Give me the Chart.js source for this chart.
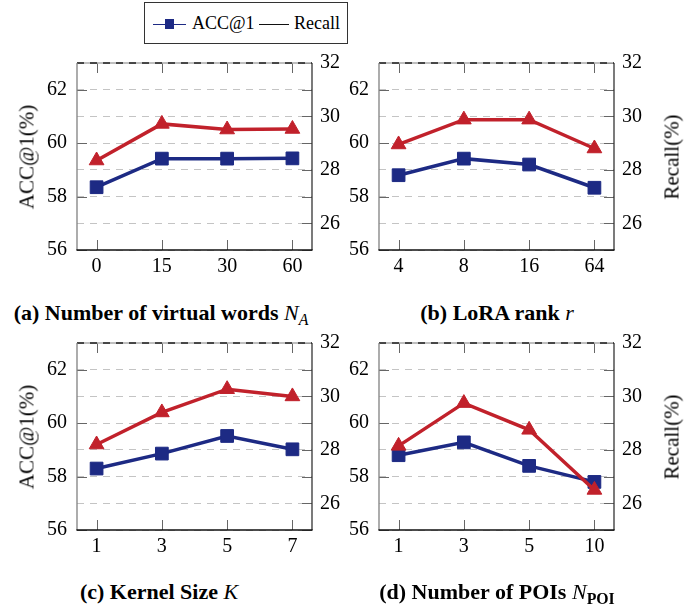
<!DOCTYPE html>
<html>
<head>
<meta charset="utf-8">
<script src="https://cdn.jsdelivr.net/npm/chart.js@4/dist/chart.umd.min.js"></script>
<style>
html,body{margin:0;padding:0;background:#fff;}
body{width:697px;height:607px;position:relative;overflow:hidden;font-family:'Liberation Serif','Times New Roman',serif;color:#000;}
canvas{position:absolute;}
.t{position:absolute;white-space:nowrap;line-height:1;}
.rot{transform:translate(-50%,-50%) rotate(-90deg);font-size:21px;}
.cap{transform:translate(-50%,-50%);font-size:22px;font-weight:bold;}
.cap i{font-weight:normal;}
.cap sub{font-size:0.72em;vertical-align:-0.3em;line-height:0;}
#legend{position:absolute;left:144px;top:2px;width:204px;height:42px;border:1px solid #333;box-sizing:border-box;}
#legend .ln{position:absolute;height:1.3px;}
#legend .sq{position:absolute;width:9px;height:10px;}
#legend .lt{position:absolute;font-size:18px;line-height:1;top:11px;}
#fontwarm{position:absolute;left:-999px;top:0;font-family:'Liberation Serif';font-size:20px;}
</style>
</head>
<body>
<div id="fontwarm">0123456789</div>
<div id="legend">
  <div class="ln" style="left:8px;top:20.5px;width:33px;background:#1d2a84"></div>
  <div class="sq" style="left:20px;top:16px;background:#1d2a84"></div>
  <div class="lt" style="left:47px">ACC@1</div>
  <div class="ln" style="left:114px;top:20.5px;width:30px;background:#111"></div>
  <div class="lt" style="left:149px">Recall</div>
</div>

<script>
// ---- data ----
const catsA = ['0', '15', '30', '60'];
const accA = [58.35, 59.42, 59.42, 59.43];
const recallA = [28.35, 29.72, 29.51, 29.53];

const catsB = ['4', '8', '16', '64'];
const accB = [58.8, 59.42, 59.2, 58.33];
const recallB = [28.95, 29.88, 29.88, 28.8];

const catsC = ['1', '3', '5', '7'];
const accC = [58.3, 58.86, 59.52, 59.02];
const recallC = [28.2, 29.4, 30.27, 30.0];

const catsD = ['1', '3', '5', '10'];
const accD = [58.8, 59.28, 58.4, 57.8];
const recallD = [28.15, 29.75, 28.75, 26.5];

const accTicks = [56, 58, 60, 62];
const recallTicks = [26, 28, 30, 32];
const accRange = [56, 63];
const recallRange = [25, 32];

const captions = [
  '(a) Number of virtual words <i>N<sub>A</sub></i>',
  '(b) LoRA rank <i>r</i>',
  '(c) Kernel Size <i>K</i>',
  '(d) Number of POIs <i>N</i><sub>POI</sub>'
];

// ---- style ----
const BLUE = '#1d2a84';
const RED = '#c1212b';
const GRID = '#c4c4c4';
const FONT = "'Liberation Serif', 'Times New Roman', serif";
Chart.defaults.font.family = FONT;

const frame = {
  id: 'frame',
  beforeDatasetsDraw(chart) {
    const {ctx, chartArea: a, scales} = chart;
    const TL = 10;
    ctx.save();
    ctx.lineWidth = 1;
    ctx.strokeStyle = '#666';
    ctx.setLineDash([]);
    ctx.beginPath();
    scales.x.ticks.forEach(t => {
      const px = Math.round(scales.x.getPixelForValue(t.value)) + 0.5;
      ctx.moveTo(px, a.bottom); ctx.lineTo(px, a.bottom - TL);
      ctx.moveTo(px, a.top); ctx.lineTo(px, a.top + TL);
    });
    scales.y.ticks.forEach(t => {
      const py = Math.round(scales.y.getPixelForValue(t.value)) + 0.5;
      ctx.moveTo(a.left, py); ctx.lineTo(a.left + TL, py);
      ctx.moveTo(a.right, py); ctx.lineTo(a.right - TL, py);
    });
    scales.y2.ticks.forEach(t => {
      const py = Math.round(scales.y2.getPixelForValue(t.value)) + 0.5;
      ctx.moveTo(a.right, py); ctx.lineTo(a.right - TL, py);
    });
    ctx.stroke();
    // top: light solid line with dark dashes
    ctx.strokeStyle = '#aaa';
    ctx.lineWidth = 1.3;
    ctx.beginPath(); ctx.moveTo(a.left, a.top); ctx.lineTo(a.right, a.top); ctx.stroke();
    ctx.strokeStyle = '#222';
    ctx.setLineDash([7, 6]);
    ctx.beginPath(); ctx.moveTo(a.left, a.top); ctx.lineTo(a.right, a.top); ctx.stroke();
    ctx.setLineDash([]);
    ctx.strokeStyle = '#808080';
    ctx.beginPath(); ctx.moveTo(a.left, a.top); ctx.lineTo(a.left, a.bottom); ctx.stroke();
    ctx.strokeStyle = '#333';
    ctx.beginPath(); ctx.moveTo(a.right, a.top); ctx.lineTo(a.right, a.bottom); ctx.stroke();
    ctx.strokeStyle = '#111';
    ctx.beginPath(); ctx.moveTo(a.left - 0.6, a.bottom); ctx.lineTo(a.right + 0.6, a.bottom); ctx.stroke();
    ctx.restore();
  }
};

const panels = [
  {canvas: {x: 0, y: 50, w: 346, h: 235}, plot: {l: 77, t: 63, r: 312, b: 250}, cats: catsA, acc: accA, rec: recallA,
   ylabel: {x: 27, y: 156.5}, cap: {x: 161, y: 313}},
  {canvas: {x: 340, y: 50, w: 357, h: 235}, plot: {l: 379, t: 63, r: 614, b: 250}, cats: catsB, acc: accB, rec: recallB,
   y2label: {x: 672, y: 156.5}, cap: {x: 497, y: 313}},
  {canvas: {x: 0, y: 330, w: 346, h: 235}, plot: {l: 77, t: 343, r: 312, b: 530}, cats: catsC, acc: accC, rec: recallC,
   ylabel: {x: 27, y: 436.5}, cap: {x: 159, y: 592}},
  {canvas: {x: 340, y: 330, w: 357, h: 235}, plot: {l: 379, t: 343, r: 614, b: 530}, cats: catsD, acc: accD, rec: recallD,
   y2label: {x: 672, y: 436.5}, cap: {x: 497, y: 592}}
];

function addText(cls, html, x, y) {
  const d = document.createElement('div');
  d.className = 't ' + cls;
  d.innerHTML = html;
  d.style.left = x + 'px';
  d.style.top = y + 'px';
  document.body.appendChild(d);
}

const charts = [];
panels.forEach((p, k) => {
  const c = document.createElement('canvas');
  c.width = p.canvas.w; c.height = p.canvas.h;
  c.style.left = p.canvas.x + 'px'; c.style.top = p.canvas.y + 'px';
  c.style.width = p.canvas.w + 'px'; c.style.height = p.canvas.h + 'px';
  document.body.appendChild(c);
  const yW = p.plot.l - p.canvas.x;
  const y2W = p.canvas.x + p.canvas.w - p.plot.r;
  const xH = p.canvas.y + p.canvas.h - p.plot.b;
  const padT = p.plot.t - p.canvas.y;
  const tickFont = {family: FONT, size: 20};

  charts.push(new Chart(c, {
    type: 'line',
    data: {
      datasets: [
        {label: 'Recall', yAxisID: 'y2', order: 0,
         data: p.rec.map((v, i) => ({x: i, y: v})),
         borderColor: RED, backgroundColor: RED, borderWidth: 3.5,
         pointStyle: 'triangle', pointRadius: 8.5, pointBorderWidth: 1,
         pointBackgroundColor: RED, pointBorderColor: RED, tension: 0},
        {label: 'ACC@1', yAxisID: 'y', order: 1,
         data: p.acc.map((v, i) => ({x: i, y: v})),
         borderColor: BLUE, backgroundColor: BLUE, borderWidth: 3.5,
         pointStyle: 'rect', pointRadius: 9, pointBorderWidth: 1,
         pointBackgroundColor: BLUE, pointBorderColor: BLUE, tension: 0}
      ]
    },
    options: {
      responsive: false, animation: false, events: [],
      layout: {padding: {top: padT, left: 0, right: 0, bottom: 0}},
      plugins: {legend: {display: false}, tooltip: {enabled: false}},
      scales: {
        x: {
          type: 'linear', min: -0.3, max: 3.3,
          grid: {display: false, drawTicks: false}, border: {display: false},
          afterBuildTicks: s => { s.ticks = p.cats.map((_, i) => ({value: i})); },
          ticks: {callback: v => p.cats[v], font: tickFont, color: '#000', padding: 5, maxRotation: 0, autoSkip: false},
          afterFit: s => { s.height = xH; s.paddingLeft = 0; s.paddingRight = 0; }
        },
        y: {
          position: 'left', min: accRange[0], max: accRange[1],
          afterBuildTicks: s => { s.ticks = accTicks.map(v => ({value: v})); },
          grid: {color: GRID, lineWidth: 1, drawTicks: false},
          border: {display: false, dash: [7, 6]},
          ticks: {font: tickFont, color: '#000', padding: 10},
          afterFit: s => { s.width = yW; s.paddingTop = 0; s.paddingBottom = 0; }
        },
        y2: {
          position: 'right', min: recallRange[0], max: recallRange[1],
          afterBuildTicks: s => { s.ticks = recallTicks.map(v => ({value: v})); },
          grid: {color: GRID, lineWidth: 1, drawTicks: false},
          border: {display: false, dash: [7, 6]},
          ticks: {font: tickFont, color: '#000', padding: 8},
          afterFit: s => { s.width = y2W; s.paddingTop = 0; s.paddingBottom = 0; }
        }
      }
    },
    plugins: [frame]
  }));

  if (p.ylabel) addText('rot', 'ACC@1(%)', p.ylabel.x, p.ylabel.y);
  if (p.y2label) addText('rot', 'Recall(%)', p.y2label.x, p.y2label.y);
  addText('cap', captions[k], p.cap.x, p.cap.y);
});

if (document.fonts && document.fonts.load) {
  document.fonts.load("20px 'Liberation Serif'").then(() => charts.forEach(ch => ch.update('none')), () => {});
}
</script>
</body>
</html>
